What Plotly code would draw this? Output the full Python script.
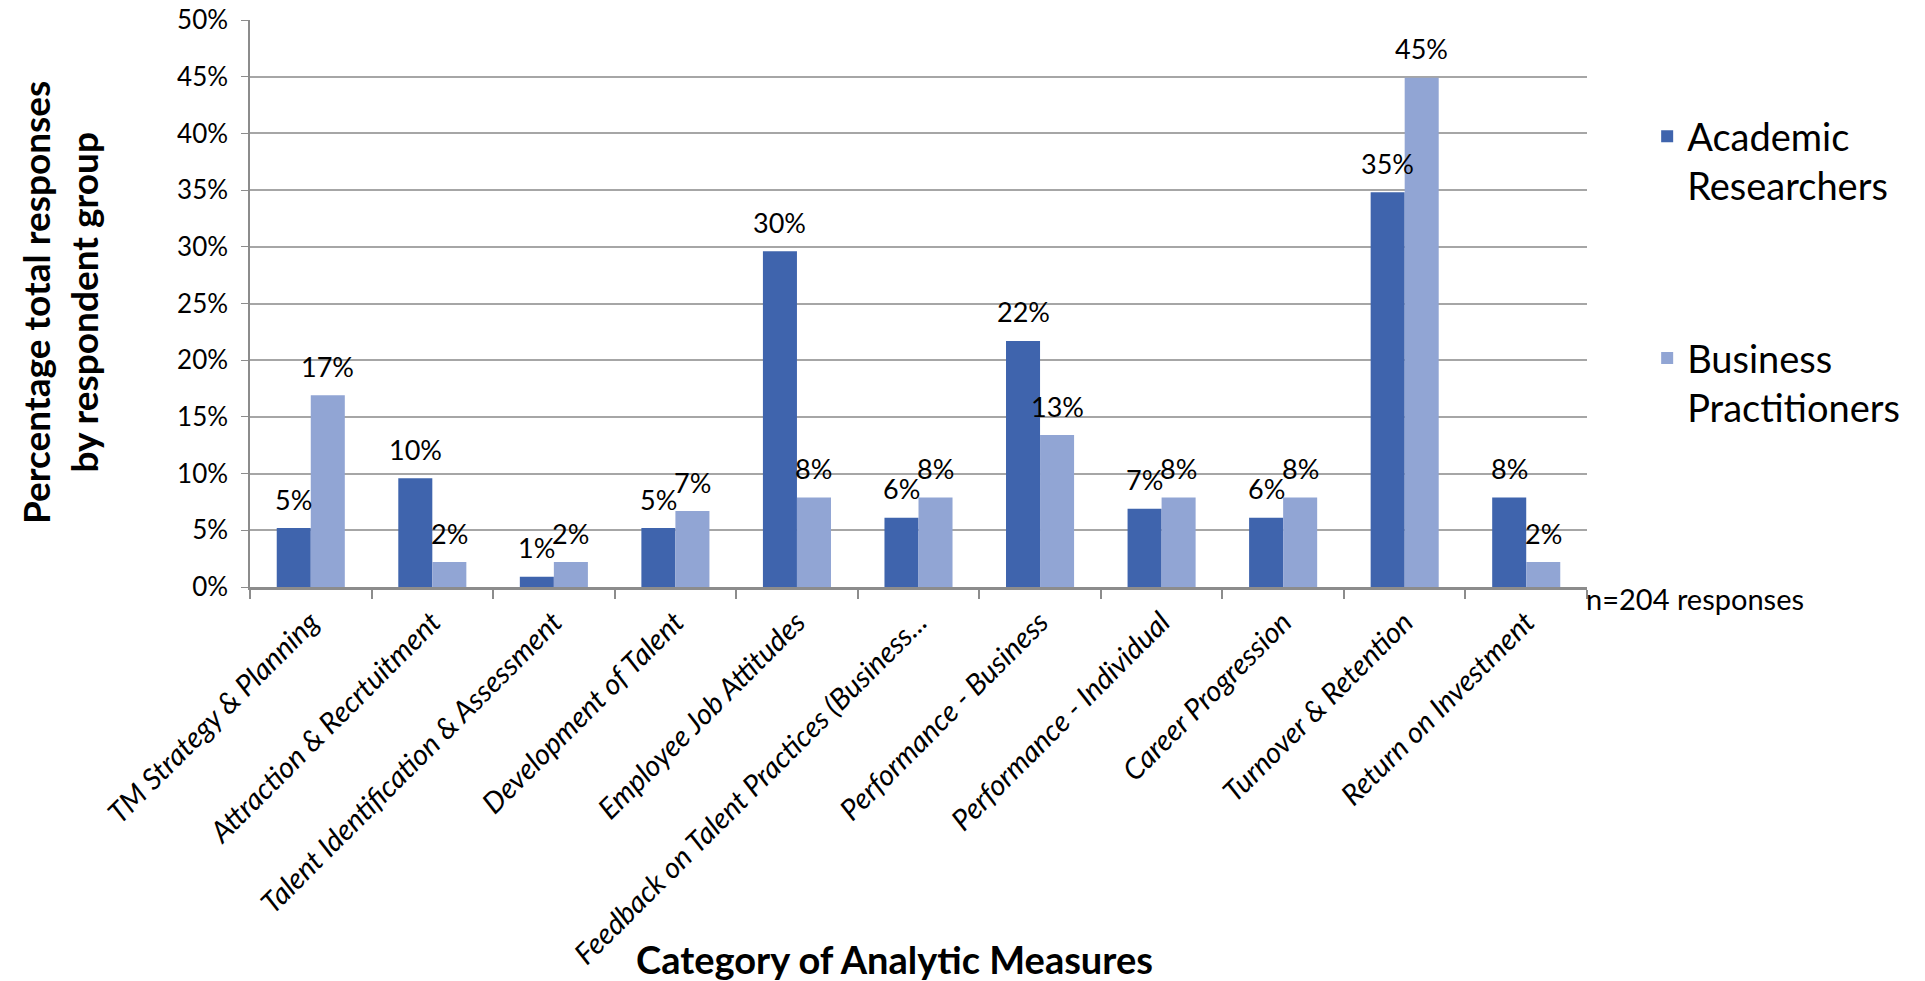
import plotly.graph_objects as go

categories = [
    "TM Strategy & Planning",
    "Attraction & Recrtuitment",
    "Talent Identification & Assessment",
    "Development of Talent",
    "Employee Job Attitudes",
    "Feedback on Talent Practices (Business...",
    "Performance - Business",
    "Performance - Individual",
    "Career Progression",
    "Turnover & Retention",
    "Return on Investment",
]
academic = [0.052, 0.096, 0.009, 0.052, 0.296, 0.061, 0.217, 0.069, 0.061, 0.348, 0.079]
business = [0.169, 0.022, 0.022, 0.067, 0.079, 0.079, 0.134, 0.079, 0.079, 0.449, 0.022]
series_names = ["Academic<br>Researchers", "Business<br>Practitioners"]
colors = ["#3F64AD", "#91A5D4"]

FONT = "Lato"

fig = go.Figure()
for name, vals, col in zip(series_names, [academic, business], colors):
    fig.add_trace(go.Bar(
        x=categories, y=vals, name=name,
        marker=dict(color=col, line=dict(width=0)),
        legendgroup=name,
    ))

# data labels
half = 17
for vals, shift in [(academic, -half), (business, half)]:
    for c, v in zip(categories, vals):
        fig.add_annotation(
            x=c, y=v, xref="x", yref="y", text=f"{round(v*100):.0f}%",
            showarrow=False, xshift=shift, yshift=29, yanchor="middle",
            font=dict(family=FONT, size=27, color="#000"),
        )

# axis titles and note
fig.add_annotation(
    x=-0.1429, y=0.5026, xref="paper", yref="paper",
    text="<b>Percentage total responses<br>by respondent group</b>",
    textangle=-90, showarrow=False, xanchor="center", yanchor="middle",
    font=dict(family=FONT, size=37, color="#000"),
)
fig.add_annotation(
    x=0.4817, y=-0.656, xref="paper", yref="paper",
    text="<b>Category of Analytic Measures</b>",
    showarrow=False, xanchor="center", yanchor="middle",
    font=dict(family=FONT, size=38, color="#000"),
)
fig.add_annotation(
    x=0.998, y=-0.021, xref="paper", yref="paper",
    text="n=204 responses",
    showarrow=False, xanchor="left", yanchor="middle",
    font=dict(family=FONT, size=29, color="#000"),
)

fig.update_layout(
    width=1925, height=981,
    margin=dict(l=250, r=338, t=20, b=394),
    paper_bgcolor="white", plot_bgcolor="white",
    font=dict(family=FONT, color="#000"),
    barmode="group", bargap=0.44, bargroupgap=0,
    showlegend=True,
    legend=dict(
        x=1.045, y=0.85, xanchor="left", yanchor="top",
        font=dict(family=FONT, size=38, color="#000"),
        valign="top", tracegroupgap=120, traceorder="grouped",
        bgcolor="rgba(0,0,0,0)",
    ),
    xaxis=dict(
        type="category", tickangle=-45, tickson="boundaries",
        ticks="outside", ticklen=9, tickcolor="#8C8C8C", tickwidth=1.5,
        showline=True, linecolor="#8C8C8C", linewidth=2.5,
        showgrid=False,
        tickfont=dict(family=FONT, size=29, color="#000", style="italic"),
        ticklabelstandoff=4,
        automargin=False,
    ),
    yaxis=dict(
        range=[0, 0.5], dtick=0.05, tickformat=".0%",
        showgrid=True, gridcolor="#A6A6A6", gridwidth=1.5,
        showline=True, linecolor="#8C8C8C", linewidth=1.5,
        ticks="outside", ticklen=7, tickcolor="#8C8C8C",
        zeroline=False,
        tickfont=dict(family=FONT, size=26, color="#000"),
        ticklabelstandoff=8,
        automargin=False,
    ),
)

fig.write_html("out.html")
